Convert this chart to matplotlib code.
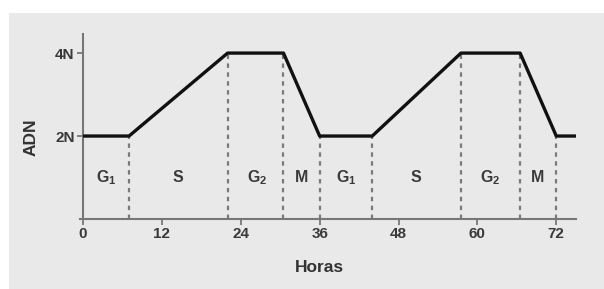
import matplotlib.pyplot as plt
from matplotlib.patches import Rectangle

# contenido de ADN a lo largo del ciclo celular
horas = [0, 7, 22, 30.5, 36, 44, 57.5, 66.5, 72, 75]
adn = [2, 2, 4, 4, 2, 2, 4, 4, 2, 2]

# limites de fase (lineas discontinuas)
limites = [7, 22, 30.5, 36, 44, 57.5, 66.5, 72]
nivel_limite = [2, 4, 4, 2, 2, 4, 4, 2]

fases = [r'G$_{\mathbf{1}}$', 'S', r'G$_{\mathbf{2}}$', 'M',
         r'G$_{\mathbf{1}}$', 'S', r'G$_{\mathbf{2}}$', 'M']
fase_x = [3.5, 14.5, 26.5, 33.3, 40, 50.7, 62, 69.2]

xticks = [0, 12, 24, 36, 48, 60, 72]

plt.rcParams['font.family'] = ['Liberation Sans', 'DejaVu Sans']
plt.rcParams['mathtext.fontset'] = 'custom'
plt.rcParams['mathtext.rm'] = 'Liberation Sans'
plt.rcParams['mathtext.bf'] = 'Liberation Sans:bold'

fig = plt.figure(figsize=(6.04, 2.89), dpi=100)
fig.patch.set_facecolor('white')
fig.patches.append(Rectangle((8.5 / 604, 0), 1, 1 - 13 / 289, transform=fig.transFigure,
                             facecolor='#e9e9e9', edgecolor='none', zorder=-5))

ax = fig.add_axes([83 / 604, 70 / 289, 493 / 604, 185 / 289])
ax.set_facecolor('none')
ax.set_zorder(2)

ax.plot(horas, adn, color='#111111', lw=2.4, solid_capstyle='butt', zorder=3)

for x, y in zip(limites, nivel_limite):
    ax.plot([x, x], [0, y], color='#7a7a7a', lw=1.6, dashes=(2.0, 2.0), zorder=2)

for f, x in zip(fases, fase_x):
    ax.text(x, 1.0, f, ha='center', va='center', fontsize=11.5, color='#3a3a3a',
            fontweight='bold')

ax.set_xlim(0, 75)
ax.set_ylim(0, 4.46)
ax.set_xticks(xticks)
ax.set_xticklabels([str(t) for t in xticks], fontsize=11, fontweight='bold')
ax.set_yticks([2, 4])
ax.set_yticklabels(['2N', '4N'], fontsize=11, fontweight='bold')

for s in ['top', 'right']:
    ax.spines[s].set_visible(False)
for s in ['left', 'bottom']:
    ax.spines[s].set_color('#777777')
    ax.spines[s].set_linewidth(1.5)
ax.spines['bottom'].set_bounds(-0.4, 75)
ax.tick_params(colors='#777777', length=4, width=1.3, pad=2)
ax.tick_params(axis='both', labelcolor='#3a3a3a')

fig.text(31 / 604, 1 - 137 / 289, 'ADN', rotation=90, ha='center', va='center',
         fontsize=12.5, color='#333333', fontweight='bold')
fig.text(319 / 604, 1 - 267 / 289, 'Horas', ha='center', va='center',
         fontsize=12.5, color='#333333', fontweight='bold')

fig.savefig('out.png', dpi=100)
